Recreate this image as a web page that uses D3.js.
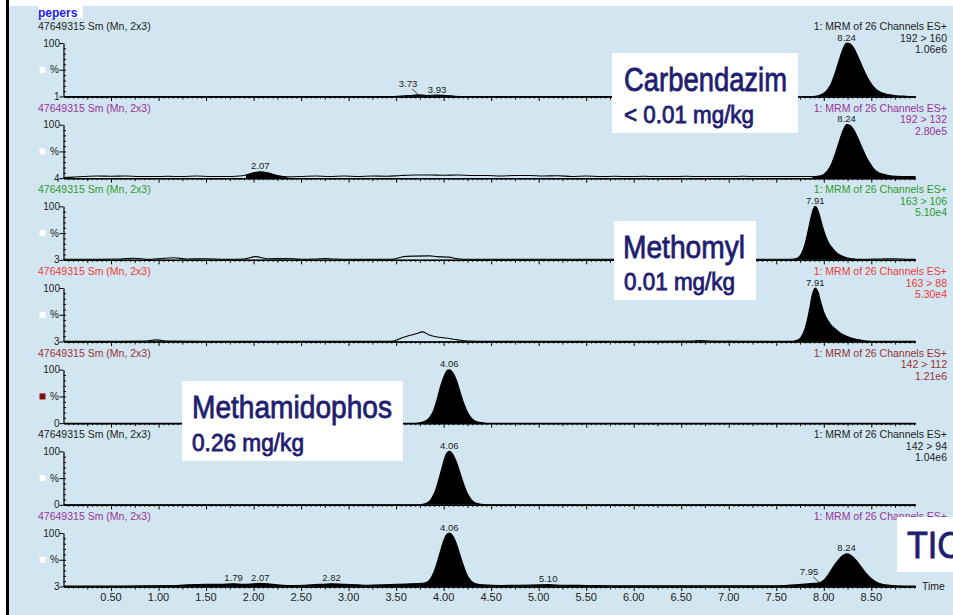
<!DOCTYPE html>
<html><head><meta charset="utf-8">
<script src="https://cdn.jsdelivr.net/npm/d3@7"></script>
<style>html,body{margin:0;padding:0;background:#fff;} svg{display:block;}</style>
</head><body>
<svg id="c" width="953" height="615"></svg>
<script>
// ---------------- DATA ----------------
const sampleTitle = "pepers";
const headerLabel = "47649315 Sm (Mn, 2x3)";
const functionLabel = "1: MRM of 26 Channels ES+";
const channels = ["192 > 160", "192 > 132", "163 > 106", "163 > 88", "142 > 112", "142 > 94", ""];
const intensities = ["1.06e6", "2.80e5", "5.10e4", "5.30e4", "1.21e6", "1.04e6", ""];
const axisMinLabels = ["1", "4", "3", "3", "0", "0", "3"];
const timeTickLabels = [0.5, 1.0, 1.5, 2.0, 2.5, 3.0, 3.5, 4.0, 4.5, 5.0, 5.5, 6.0, 6.5, 7.0, 7.5, 8.0, 8.5];
const timeMax = 8.965;

// traces: [retention time (min), relative intensity %]
const trace192_160 = [
  [0.00,0],[3.45,0],[3.55,1],[3.65,2],[3.73,3],[3.82,2],[3.93,2.5],[4.03,2],[4.12,0.5],[4.20,0],[7.88,0],
  [7.95,2],[8.00,6],[8.04,13],[8.08,25],[8.12,44],[8.16,67],[8.20,88],[8.24,100],[8.28,98],[8.32,89],
  [8.36,74],[8.40,58],[8.44,42],[8.48,29],[8.52,19],[8.56,12],[8.61,7],[8.68,3.5],[8.76,1.5],[8.86,0.5],[8.965,0]
];
const trace192_132 = [
  [0.00,1],[0.10,2],[0.20,3],[0.35,4],[0.50,3.5],[0.65,4],[0.80,3],[0.95,3],[1.10,3.5],[1.25,3],[1.40,4],
  [1.55,3],[1.70,3],[1.85,4],[1.92,6],[2.00,10],[2.07,12],[2.15,10],[2.25,5],[2.35,2.5],[2.50,3],[2.65,4],
  [2.80,3],[2.95,4],[3.10,3],[3.25,4],[3.40,3.5],[3.55,5],[3.70,6],[3.85,6],[4.00,5.5],[4.15,6],[4.30,5],
  [4.45,5],[4.60,4],[4.75,5],[4.90,5],[5.05,4],[5.20,4.5],[5.35,3],[5.50,4],[5.65,3],[5.80,3.5],[5.95,3],
  [6.10,3.5],[6.25,3],[6.40,3],[6.55,3.5],[6.70,3],[6.85,3],[7.00,3],[7.15,3.5],[7.30,3],[7.45,3],[7.60,3],
  [7.75,3],[7.88,3],[7.95,4],[8.00,7],[8.04,14],[8.08,26],[8.12,45],[8.16,67],[8.20,88],[8.24,100],[8.28,98],
  [8.32,89],[8.36,74],[8.40,58],[8.44,42],[8.48,29],[8.52,19],[8.56,12],[8.61,8],[8.68,5],[8.76,3.5],[8.86,3],[8.965,3]
];
const trace163_106 = [
  [0.00,1],[0.30,1],[0.60,1.5],[0.74,3],[0.90,1],[1.16,4],[1.30,1.5],[1.50,2],[1.70,1],[1.90,1.5],[2.02,6],
  [2.15,2],[2.35,2.5],[2.50,1],[2.65,1.5],[2.75,2.5],[2.85,1.5],[3.00,1],[3.20,1],[3.40,1],[3.48,1.5],[3.58,6],
  [3.70,7],[3.85,7.5],[3.93,6],[4.05,5],[4.15,2],[4.25,1],[4.60,1],[5.00,1],[5.50,1],[6.00,1],[6.30,1],
  [6.50,2],[6.65,1],[7.00,1],[7.40,1],[7.62,1],[7.68,1.5],[7.72,3],[7.76,10],[7.80,28],[7.83,50],[7.86,75],
  [7.89,95],[7.91,100],[7.93,96],[7.96,80],[7.99,60],[8.02,44],[8.05,32],[8.09,22],[8.13,14],[8.18,8],[8.24,4],
  [8.30,2],[8.40,1],[8.60,1.5],[8.75,2],[8.90,1],[8.965,1]
];
const trace163_88 = [
  [0.00,0.5],[0.50,0.5],[0.85,1],[0.98,3],[1.10,1],[1.50,0.5],[2.00,0.5],[2.50,0.5],[3.00,0.5],[3.40,0.5],
  [3.47,1],[3.58,8],[3.70,14],[3.78,18],[3.85,12],[3.92,9],[4.04,6],[4.15,3],[4.25,1],[4.50,0.5],[5.00,0.5],
  [6.00,0.5],[6.60,1],[6.70,2],[6.80,1],[7.40,0.5],[7.66,0.5],[7.70,1.5],[7.74,4],[7.78,14],[7.82,35],[7.85,60],
  [7.88,88],[7.91,100],[7.94,92],[7.97,72],[8.00,55],[8.04,40],[8.08,30],[8.13,22],[8.18,15],[8.24,10],
  [8.30,6],[8.38,3],[8.46,1],[8.55,0.5],[8.965,0.5]
];
const trace142_112 = [
  [0.00,0],[3.70,0],[3.76,1],[3.81,4],[3.85,10],[3.89,22],[3.93,44],[3.97,70],[4.01,90],[4.04,99],[4.06,100],
  [4.09,96],[4.13,82],[4.17,60],[4.21,38],[4.25,21],[4.29,10],[4.33,4],[4.38,1.5],[4.45,0],[8.965,0]
];
const trace142_94 = [
  [0.00,0],[3.72,0],[3.78,1],[3.83,4],[3.87,11],[3.91,25],[3.95,48],[3.99,74],[4.02,92],[4.06,100],
  [4.09,96],[4.13,82],[4.17,61],[4.21,39],[4.25,21],[4.29,10],[4.33,4],[4.38,1.5],[4.45,0],[8.965,0]
];
const traceTIC = [
  [0.00,1],[0.30,1],[0.60,1],[0.90,1.5],[1.20,2],[1.30,3],[1.50,4],[1.65,4],[1.79,5],[1.90,4],[2.00,5],
  [2.07,6],[2.15,5],[2.25,3],[2.35,2],[2.45,2],[2.60,3],[2.70,4],[2.82,5],[2.95,4],[3.10,3],[3.20,2.5],
  [3.35,3],[3.50,4],[3.65,5],[3.78,6],[3.84,10],[3.88,20],[3.92,38],[3.96,62],[4.00,85],[4.03,97],[4.06,100],
  [4.09,96],[4.13,82],[4.17,60],[4.21,38],[4.25,20],[4.29,10],[4.34,5],[4.42,3],[4.60,2],[4.80,2.5],[5.00,3],
  [5.10,3.5],[5.25,2.5],[5.50,2],[5.80,1.5],[6.20,1.5],[6.60,1.5],[7.00,1.5],[7.40,1.5],[7.60,2],[7.70,3],
  [7.80,4.5],[7.90,6],[7.95,7],[8.00,12],[8.05,23],[8.10,37],[8.15,49],[8.20,58],[8.24,61],[8.28,59],[8.33,51],
  [8.38,40],[8.43,28],[8.48,18],[8.53,11],[8.58,6],[8.65,3],[8.75,1.5],[8.965,1]
];
const traces = [trace192_160, trace192_132, trace163_106, trace163_88, trace142_112, trace142_94, traceTIC];

// integrated (filled) regions per trace [from, to]
const fillRanges = [
  [[3.50, 4.15], [7.88, 8.965]],
  [[1.90, 2.35], [7.88, 8.965]],
  [[7.66, 8.40]],
  [[7.66, 8.55]],
  [[3.70, 4.45]],
  [[3.72, 4.45]],
  [[0.00, 8.965]]
];
// peak labels per trace: [time, intensity]
const peakLabels = [
  [[8.24,100],[3.73,3],[3.93,2.5]],
  [[8.24,100],[2.07,12]],
  [[7.91,100]],
  [[7.91,100]],
  [[4.06,100]],
  [[4.06,100]],
  [[4.06,100],[8.24,61],[7.95,7],[1.79,5],[2.07,6],[2.82,5],[5.10,3.5]]
];
const leaderLabels = [3.73, 7.95];

const annotations = [
  {lines: ["Carbendazim", "< 0.01 mg/kg"]},
  {lines: ["Methomyl", "0.01 mg/kg"]},
  {lines: ["Methamidophos", "0.26 mg/kg"]},
  {lines: ["TIC"]}
];

// ---------------- STYLE / LAYOUT ----------------
const panelColors = ["#1e1e1e", "#993399", "#2f9a2f", "#f03a3a", "#993333", "#1e1e1e", "#993399"];
const squareColors = ["#fff", "#fff", "#fff", "#fff", "#8b0a0a", "#fff", "#fff"];
const navy = "#211d70";
const smallFont = "'Liberation Sans', Arial, sans-serif";
const narrowFont = "'Liberation Sans Narrow','Arial Narrow','Liberation Sans',Arial,sans-serif";

const svg = d3.select("#c");
svg.append("rect").attr("x", 0).attr("y", 0).attr("width", 953).attr("height", 615).attr("fill", "#fff");
svg.append("rect").attr("x", 9).attr("y", 6).attr("width", 944).attr("height", 609).attr("fill", "#d1e6f0");
svg.append("rect").attr("x", 6).attr("y", 0).attr("width", 3).attr("height", 615).attr("fill", "#000");

// title
svg.append("rect").attr("x", 38).attr("y", 6).attr("width", 45).attr("height", 12).attr("fill", "#fff");
svg.append("text").attr("x", 38).attr("y", 16.5).text(sampleTitle)
  .attr("font-family", smallFont).attr("font-size", 12).attr("font-weight", "bold").attr("fill", "#1a1aff");

const x = d3.scaleLinear().domain([0, timeMax]).range([63.5, 915.5]);

const minorTicks = d3.range(1, 180).map(k => k * 0.05).filter((t, i) => (i + 1) % 5 !== 0 && t <= timeMax);
const midTicks = d3.range(1, 36).map(k => k * 0.25).filter((t, i) => (i + 1) % 2 !== 0 && t <= timeMax);
const majorTicks = d3.range(1, 18).map(k => k * 0.5).filter(t => t <= timeMax);

traces.forEach((data, i) => {
  const top = 43 + i * 81.67;
  const bottom = top + 53.5;
  const mid = (top + bottom) / 2;
  const y = d3.scaleLinear().domain([0, 100]).range([bottom, top]);
  const col = panelColors[i];
  const g = svg.append("g");

  // header texts
  g.append("text").attr("x", 38).attr("y", top - 13).text(headerLabel)
    .attr("font-family", smallFont).attr("font-size", 10.5).attr("fill", col);
  g.append("text").attr("x", 947).attr("y", top - 13).attr("text-anchor", "end").text(functionLabel)
    .attr("font-family", smallFont).attr("font-size", 10.5).attr("fill", col);
  if (channels[i]) {
    g.append("text").attr("x", 947).attr("y", top - 1.5).attr("text-anchor", "end").text(channels[i])
      .attr("font-family", smallFont).attr("font-size", 10.5).attr("fill", col);
    g.append("text").attr("x", 947).attr("y", top + 10).attr("text-anchor", "end").text(intensities[i])
      .attr("font-family", smallFont).attr("font-size", 10.5).attr("fill", col);
  }

  // y axis labels
  g.append("text").attr("x", 60).attr("y", top + 3.5).attr("text-anchor", "end").text("100")
    .attr("font-family", smallFont).attr("font-size", 10).attr("fill", "#222");
  g.append("text").attr("x", 50).attr("y", mid + 3.5).text("%")
    .attr("font-family", smallFont).attr("font-size", 10).attr("fill", "#222");
  g.append("rect").attr("x", 39.5).attr("y", mid - 3).attr("width", 6).attr("height", 6).attr("fill", squareColors[i]);
  g.append("text").attr("x", 59.5).attr("y", bottom + 3.5).attr("text-anchor", "end").text(axisMinLabels[i])
    .attr("font-family", smallFont).attr("font-size", 10).attr("fill", "#222");

  // y axis
  const yl = g.append("g").attr("transform", `translate(${x(0)},0)`)
    .call(d3.axisLeft(y).tickValues([0, 50, 100]).tickSize(4).tickSizeOuter(0).tickFormat(""));
  yl.select(".domain").attr("stroke", "#000").attr("stroke-width", 1.2);
  const yr = g.append("g").attr("transform", `translate(${x(0)},0)`)
    .call(d3.axisRight(y).tickValues(d3.range(1, 10).map(k => k * 10)).tickSize(2.5).tickFormat(""));
  yr.select(".domain").remove();

  // trace: filled regions then line
  const curve = d3.curveMonotoneX;
  const area = d3.area().x(d => x(d[0])).y0(y(0)).y1(d => y(d[1])).curve(curve);
  fillRanges[i].forEach(([a, b]) => {
    const seg = data.filter(d => d[0] >= a - 1e-9 && d[0] <= b + 1e-9);
    g.append("path").datum(seg).attr("d", area).attr("fill", "#000");
  });
  const line = d3.line().x(d => x(d[0])).y(d => y(d[1])).curve(curve);
  g.append("path").datum(data).attr("d", line).attr("fill", "none").attr("stroke", "#000").attr("stroke-width", 1.1);

  // x axis ticks
  const xa = g.append("g").attr("transform", `translate(0,${bottom})`);
  xa.append("g").call(d3.axisBottom(x).tickValues(minorTicks).tickSize(2).tickSizeOuter(0).tickFormat(""));
  xa.append("g").call(d3.axisBottom(x).tickValues(midTicks).tickSize(3).tickSizeOuter(0).tickFormat(""));
  xa.append("g").call(d3.axisBottom(x).tickValues(majorTicks).tickSize(4.5).tickSizeOuter(0).tickFormat(""));
  xa.selectAll(".domain").attr("stroke", "#000").attr("stroke-width", 1.2);
  xa.selectAll(".tick line").attr("stroke", "#000");

  // peak labels
  peakLabels[i].forEach(([t, v]) => {
    const px = x(t), py = y(v);
    const lead = leaderLabels.includes(t);
    const lx = lead ? px - 10 : px;
    const ly = lead ? py - 8 : py - 2.5;
    g.append("text").attr("x", lx).attr("y", ly).attr("text-anchor", "middle").text(t.toFixed(2))
      .attr("font-family", smallFont).attr("font-size", 9.5).attr("fill", "#222");
    if (lead) {
      g.append("line").attr("x1", px - 6).attr("y1", py - 6).attr("x2", px).attr("y2", py - 0.5)
        .attr("stroke", "#222").attr("stroke-width", 0.8);
    }
  });

  if (i === traces.length - 1) {
    timeTickLabels.forEach(t => {
      g.append("text").attr("x", x(t)).attr("y", 601).attr("text-anchor", "middle").text(t.toFixed(2))
        .attr("font-family", smallFont).attr("font-size", 11).attr("fill", "#222");
    });
    g.append("text").attr("x", 922).attr("y", 590).text("Time")
      .attr("font-family", smallFont).attr("font-size", 10.5).attr("fill", "#222");
  }
});

// annotation boxes
const boxLayout = [
  {x: 612, y: 53, w: 186, h: 80, lines: [{x: 624, y: 91, fs: 33, len: 163}, {x: 624, y: 123, fs: 23, len: 130}]},
  {x: 614, y: 221, w: 142, h: 79, lines: [{x: 623, y: 258, fs: 32, len: 122}, {x: 624, y: 290, fs: 23, len: 111}]},
  {x: 182, y: 381, w: 221, h: 80, lines: [{x: 192, y: 418, fs: 32, len: 200}, {x: 192, y: 451, fs: 23, len: 112}]},
  {x: 897, y: 517, w: 60, h: 55, lines: [{x: 907, y: 558, fs: 36, len: 55}]}
];
annotations.forEach((a, k) => {
  const b = boxLayout[k];
  svg.append("rect").attr("x", b.x).attr("y", b.y).attr("width", b.w).attr("height", b.h).attr("fill", "#fff");
  a.lines.forEach((s, j) => {
    const L = b.lines[j];
    svg.append("text").attr("x", L.x).attr("y", L.y).text(s)
      .attr("font-family", narrowFont).attr("font-size", L.fs).attr("fill", navy)
      .attr("stroke", navy).attr("stroke-width", 0.8).attr("paint-order", "fill")
      .attr("textLength", L.len).attr("lengthAdjust", "spacingAndGlyphs");
  });
});
</script>
</body></html>
